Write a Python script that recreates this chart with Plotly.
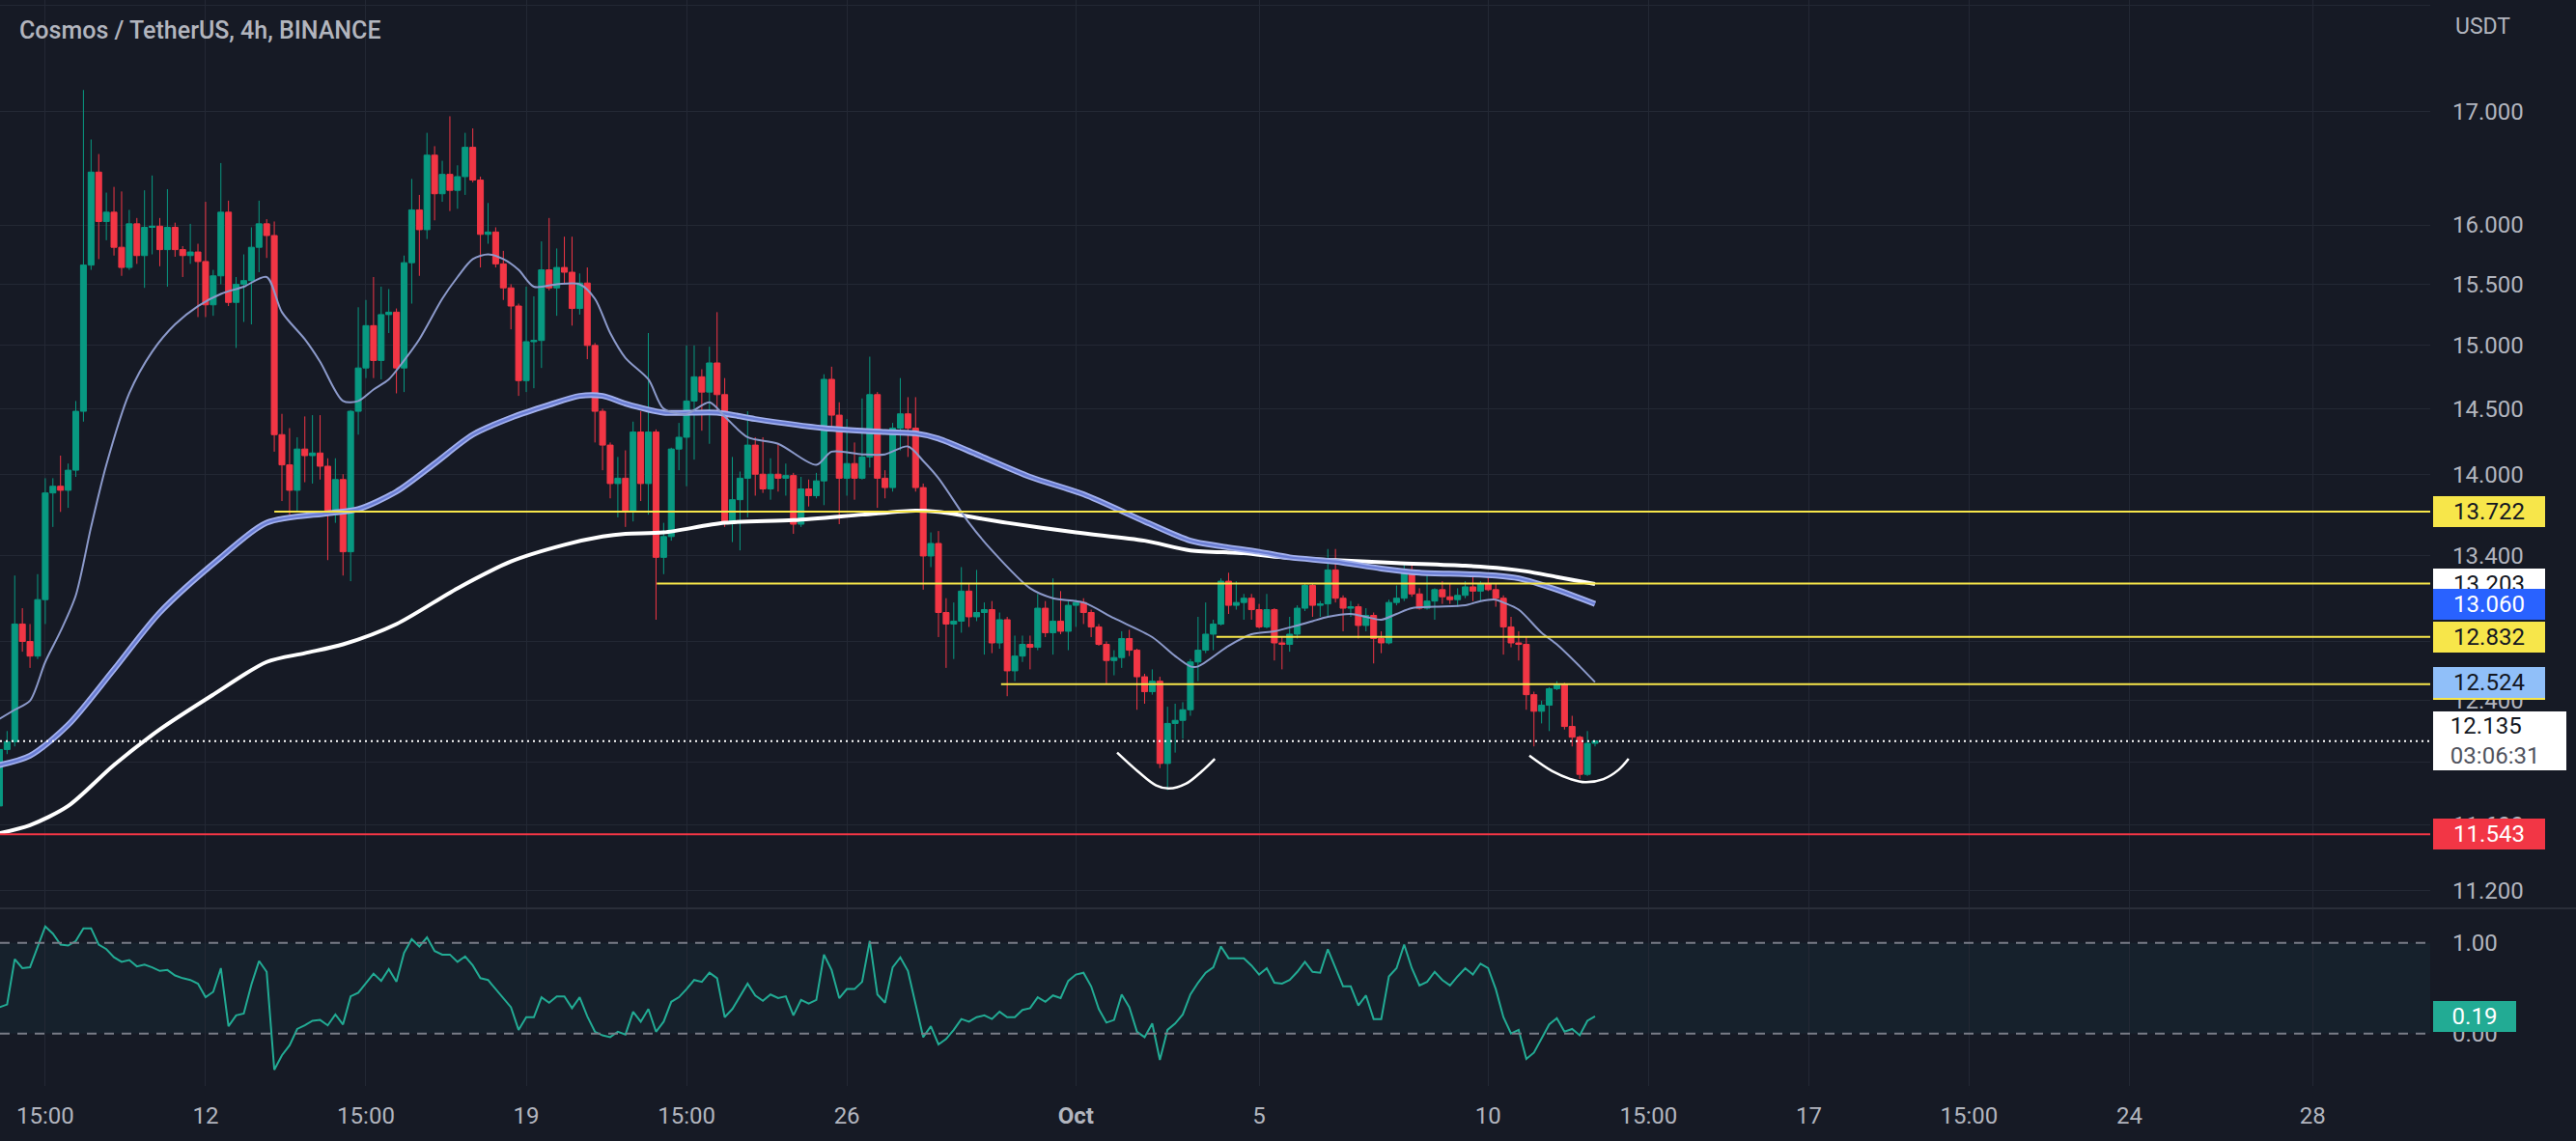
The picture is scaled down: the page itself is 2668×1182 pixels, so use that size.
import numpy as np
import pandas as pd
import plotly.graph_objects as go

# ---------------- data ----------------
BASE = pd.Timestamp("2022-09-07 12:00")   # time of bar 0 (4h bars)
BAR_HOURS = 4

opens = [11.72,12.08,12.13,12.92,12.80,12.70,13.09,13.86,13.91,13.88,
         14.03,14.48,15.66,16.46,16.03,16.11,15.81,15.64,16.01,15.74,
         15.98,15.99,15.79,15.98,15.79,15.74,15.77,15.69,15.33,15.57,
         16.11,15.35,15.50,15.53,15.81,16.01,15.91,14.30,14.07,13.88,
         14.19,14.14,14.16,14.06,13.70,13.96,13.43,14.48,14.82,15.16,
         14.88,15.25,15.27,14.82,15.68,16.13,15.96,16.61,16.27,16.44,
         16.30,16.42,16.68,16.39,15.92,15.94,15.67,15.47,15.32,14.72,
         15.03,15.04,15.62,15.47,15.64,15.60,15.30,15.51,15.00,14.48,
         14.22,13.93,13.97,13.72,14.32,13.93,14.32,13.39,13.54,14.19,
         14.28,14.56,14.75,14.63,14.86,14.61,13.65,13.81,13.97,14.22,
         14.00,13.89,14.00,13.97,13.99,13.63,13.89,13.84,13.95,14.73,
         14.45,13.97,14.08,13.97,14.13,14.61,13.97,13.90,14.35,14.46,
         14.35,13.90,13.40,13.49,13.00,12.92,12.94,13.15,12.97,13.00,
         13.02,12.79,12.95,12.60,12.70,12.78,12.76,13.03,12.86,12.94,
         12.87,13.05,13.07,13.00,12.90,12.78,12.67,12.69,12.82,12.74,
         12.56,12.46,12.53,11.99,12.25,12.27,12.34,12.66,12.74,12.85,
         12.92,13.22,13.05,13.07,13.10,13.02,12.90,13.02,12.79,12.78,
         12.85,13.03,13.19,13.05,13.06,13.30,13.10,13.03,13.04,12.91,
         12.98,12.82,12.79,13.07,13.10,13.30,13.13,13.03,13.08,13.16,
         13.11,13.09,13.12,13.18,13.15,13.20,13.16,13.10,12.90,12.79,
         12.78,12.44,12.33,12.37,12.48,12.51,12.23,12.16,11.92,12.12]

highs = [12.10,12.20,13.26,13.03,12.92,13.27,13.97,13.97,14.14,14.08,
         14.56,17.20,16.75,16.62,16.28,16.33,16.29,16.13,16.06,16.30,
         16.43,16.06,16.31,16.02,15.82,16.01,15.84,16.20,15.62,16.54,
         16.21,15.56,15.75,15.98,16.21,16.05,16.03,14.46,14.35,14.28,
         14.44,14.45,14.45,14.12,14.12,14.00,14.49,15.31,15.37,15.56,
         15.48,15.46,15.30,15.74,16.40,16.26,16.81,16.69,16.56,16.96,
         16.52,16.81,16.85,16.42,16.19,15.98,15.78,15.50,15.34,15.48,
         15.40,15.86,16.06,15.80,15.90,15.90,15.59,15.64,15.02,14.50,
         14.24,14.13,14.18,14.40,14.48,15.10,14.34,13.64,14.20,14.39,
         15.00,15.00,14.81,14.99,15.27,14.74,14.13,14.02,14.48,14.28,
         14.28,14.12,14.23,14.08,14.01,13.98,13.96,14.01,14.77,14.83,
         14.55,14.42,14.24,14.58,14.91,14.63,14.03,14.39,14.74,14.59,
         14.59,13.93,13.57,13.58,13.10,13.07,13.32,13.20,13.30,13.07,
         13.08,13.00,12.97,12.84,12.84,12.84,13.13,13.08,13.24,13.15,
         13.08,13.09,13.10,13.02,12.92,12.80,12.74,12.87,12.88,12.75,
         12.58,12.61,12.56,12.36,12.38,12.39,12.68,12.97,13.07,12.95,
         13.24,13.28,13.22,13.13,13.13,13.06,13.13,13.03,12.83,12.97,
         13.05,13.20,13.20,13.08,13.45,13.45,13.12,13.08,13.06,13.03,
         13.00,12.87,13.09,13.19,13.34,13.34,13.17,13.26,13.17,13.22,
         13.20,13.17,13.22,13.27,13.22,13.27,13.20,13.12,12.97,12.87,
         12.83,12.46,12.40,12.49,12.53,12.52,12.30,12.17,12.20,12.14]

lows = [11.65,12.05,12.10,12.73,12.62,12.68,12.92,13.61,13.72,13.75,
        13.98,14.40,15.62,15.71,15.87,15.74,15.57,15.62,15.67,15.47,
        15.75,15.65,15.48,15.73,15.56,15.67,15.23,15.23,15.24,15.50,
        15.32,14.98,15.19,15.17,15.60,15.72,14.17,13.80,13.70,13.72,
        13.94,13.93,13.96,13.37,13.64,13.26,13.22,14.30,14.74,14.74,
        14.73,15.10,14.62,14.63,15.34,15.57,15.88,16.04,16.20,16.12,
        16.14,16.26,16.37,15.64,15.84,15.64,15.37,15.13,14.60,14.63,
        14.66,14.82,15.45,15.24,15.50,15.16,15.25,14.89,14.24,14.03,
        13.82,13.68,13.61,13.65,13.80,13.70,12.95,13.27,13.51,14.03,
        13.91,14.11,14.33,14.23,14.48,13.61,13.50,13.44,13.68,13.84,
        13.86,13.81,13.87,13.84,13.56,13.61,13.76,13.82,13.77,14.33,
        13.63,13.84,13.81,13.96,14.05,13.75,13.82,13.87,14.18,14.13,
        13.87,13.16,13.32,12.83,12.62,12.68,12.86,12.90,12.94,12.71,
        12.72,12.75,12.43,12.53,12.66,12.61,12.74,12.83,12.71,12.85,
        12.74,12.90,12.92,12.83,12.77,12.51,12.57,12.62,12.70,12.34,
        12.38,12.44,11.96,11.82,12.06,12.15,12.30,12.53,12.72,12.74,
        12.91,12.99,13.02,12.95,12.95,12.89,12.89,12.67,12.61,12.73,
        12.82,13.01,12.97,12.97,12.97,13.07,12.87,12.97,12.82,12.87,
        12.65,12.72,12.78,13.05,13.08,13.11,13.02,13.02,12.95,13.06,
        13.06,13.04,13.10,13.08,13.08,13.15,13.04,12.71,12.76,12.67,
        12.34,12.10,12.25,12.20,12.47,12.21,12.10,11.89,11.91,12.10]

closes = [12.08,12.13,12.92,12.80,12.70,13.09,13.86,13.91,13.88,14.03,
          14.48,15.66,16.46,16.03,16.11,15.81,15.64,16.01,15.74,15.98,
          15.99,15.79,15.98,15.79,15.74,15.77,15.69,15.33,15.57,16.11,
          15.35,15.50,15.53,15.81,16.01,15.91,14.30,14.07,13.88,14.19,
          14.14,14.16,14.06,13.70,13.96,13.43,14.48,14.82,15.16,14.88,
          15.25,15.27,14.82,15.68,16.13,15.96,16.61,16.27,16.44,16.30,
          16.42,16.68,16.39,15.92,15.94,15.67,15.47,15.32,14.72,15.03,
          15.04,15.62,15.47,15.64,15.60,15.30,15.51,15.00,14.48,14.22,
          13.93,13.97,13.72,14.32,13.93,14.32,13.39,13.54,14.19,14.28,
          14.56,14.75,14.63,14.86,14.61,13.65,13.81,13.97,14.22,14.00,
          13.89,14.00,13.97,13.99,13.63,13.89,13.84,13.95,14.73,14.45,
          13.97,14.08,13.97,14.13,14.61,13.97,13.90,14.35,14.46,14.35,
          13.90,13.40,13.49,13.00,12.92,12.94,13.15,12.97,13.00,13.02,
          12.79,12.95,12.60,12.70,12.78,12.76,13.03,12.86,12.94,12.87,
          13.05,13.07,13.00,12.90,12.78,12.67,12.69,12.82,12.74,12.56,
          12.46,12.53,11.99,12.25,12.27,12.34,12.66,12.74,12.85,12.92,
          13.22,13.05,13.07,13.10,13.02,12.90,13.02,12.79,12.78,12.85,
          13.03,13.19,13.05,13.06,13.30,13.10,13.03,13.04,12.91,12.98,
          12.82,12.79,13.07,13.10,13.30,13.13,13.03,13.08,13.16,13.11,
          13.09,13.12,13.18,13.15,13.20,13.16,13.10,12.90,12.79,12.78,
          12.44,12.33,12.37,12.48,12.51,12.23,12.16,11.92,12.12,12.135]

osc_values = [0.29,0.32,0.82,0.72,0.73,0.95,1.18,1.10,0.98,0.97,
              1.02,1.16,1.16,0.98,0.93,0.84,0.79,0.81,0.74,0.76,
              0.73,0.69,0.70,0.64,0.61,0.59,0.55,0.40,0.46,0.72,
              0.08,0.20,0.22,0.54,0.80,0.68,-0.40,-0.24,-0.13,0.05,
              0.09,0.14,0.15,0.09,0.21,0.10,0.41,0.45,0.56,0.66,
              0.58,0.71,0.57,0.89,1.04,0.96,1.06,0.91,0.87,0.87,
              0.79,0.85,0.75,0.61,0.59,0.49,0.38,0.29,0.04,0.18,
              0.18,0.40,0.34,0.41,0.41,0.28,0.40,0.19,0.02,-0.02,
              -0.04,0.02,-0.01,0.24,0.13,0.27,0.02,0.13,0.35,0.40,
              0.49,0.59,0.57,0.67,0.61,0.18,0.27,0.41,0.55,0.42,
              0.36,0.43,0.39,0.41,0.20,0.37,0.33,0.37,0.87,0.70,
              0.39,0.49,0.49,0.57,1.02,0.43,0.34,0.73,0.84,0.69,
              0.31,-0.04,0.08,-0.12,-0.06,0.04,0.16,0.13,0.18,0.20,
              0.16,0.24,0.18,0.18,0.26,0.28,0.40,0.35,0.42,0.39,
              0.58,0.65,0.67,0.52,0.27,0.12,0.15,0.43,0.29,0.02,
              -0.04,0.11,-0.29,0.04,0.11,0.21,0.43,0.56,0.67,0.73,
              0.96,0.83,0.83,0.83,0.75,0.65,0.72,0.56,0.55,0.59,
              0.68,0.79,0.68,0.67,0.93,0.73,0.52,0.52,0.31,0.42,
              0.16,0.16,0.63,0.72,0.98,0.72,0.53,0.57,0.68,0.59,
              0.53,0.63,0.72,0.65,0.77,0.72,0.49,0.18,0.00,0.04,
              -0.28,-0.21,-0.06,0.10,0.17,0.02,0.05,-0.02,0.14,0.19]

# moving averages (bar index, value)
ma_fast_bar = [0,2,4,6,8,10,12,14,17,20,23,26,29,32,35,37,40,42,45,47,49,51,53,55,58,60,62,64,66,68,
               70,73,76,78,80,82,85,87,90,93,95,98,102,107,109,113,116,119,121,123,127,130,135,138,142,
               146,151,154,156,157,161,164,167,170,172,174,177,179,181,183,185,188,192,194,196,197,199,
               202,204,207,209]
ma_fast_val = [12.28,12.34,12.40,12.66,12.87,13.12,13.61,14.07,14.62,14.95,15.17,15.32,15.42,15.48,15.56,
               15.27,15.05,14.87,14.56,14.56,14.65,14.73,14.88,15.05,15.38,15.56,15.71,15.75,15.71,15.62,
               15.48,15.50,15.50,15.38,15.10,14.90,14.73,14.50,14.46,14.55,14.44,14.28,14.23,14.07,14.17,
               14.15,14.15,14.21,14.10,13.97,13.64,13.44,13.17,13.10,13.07,12.96,12.83,12.70,12.63,12.63,
               12.77,12.85,12.87,12.91,12.94,12.97,12.99,12.97,12.95,12.99,13.03,13.04,13.05,13.08,13.09,
               13.07,13.02,12.86,12.78,12.63,12.524]
ma_mid_bar = [0,4,9,15,21,29,35,43,47,52,57,62,67,72,76,79,82,87,94,99,
              108,116,120,123,128,135,142,150,156,160,165,169,175,181,186,192,196,199,204,209]
ma_mid_val = [11.98,12.04,12.24,12.61,13.00,13.39,13.64,13.71,13.74,13.87,
              14.08,14.30,14.43,14.53,14.60,14.60,14.54,14.47,14.47,14.42,
              14.35,14.32,14.31,14.27,14.15,13.98,13.85,13.65,13.51,13.47,
              13.43,13.39,13.36,13.31,13.28,13.27,13.26,13.24,13.16,13.06]
ma_slow_bar = [0,4,9,15,21,28,35,40,45,52,60,67,74,79,82,87,95,104,113,120,
               123,132,141,150,156,163,168,175,183,192,197,200,204,209]
ma_slow_val = [11.55,11.60,11.72,11.98,12.21,12.44,12.66,12.72,12.78,12.92,
               13.17,13.36,13.48,13.54,13.56,13.57,13.64,13.66,13.70,13.73,
               13.72,13.64,13.57,13.51,13.44,13.42,13.39,13.37,13.35,13.33,
               13.31,13.29,13.25,13.20]

# drawn horizontal levels
level_prices = [13.722, 13.203, 12.832, 12.51, 11.543]
level_start_bar = [36.0, 86.1, 159.4, 131.2, 0.07]

# hand-drawn "cup" arcs
cup_left_bar = [146.4, 149.1, 151.5, 153.2, 155.4, 157.5, 159.2]
cup_left_val = [12.06, 11.94, 11.85, 11.83, 11.86, 11.94, 12.02]
cup_right_bar = [200.4, 203.4, 205.8, 207.7, 210.1, 212.1, 213.4]
cup_right_val = [12.04, 11.94, 11.89, 11.87, 11.89, 11.95, 12.02]

last_price = 12.135
countdown = "03:06:31"
osc_last = 0.19

price_ticks = [11.2, 11.6, 12.0, 12.4, 12.8, 13.4, 14.0, 14.5, 15.0, 15.5, 16.0, 17.0, 18.0]
price_tick_text = ["11.200", "11.600", "12.000", "12.400", "12.800", "13.400", "14.000",
                   "14.500", "15.000", "15.500", "16.000", "17.000", ""]
time_ticks = ["2022-09-08 12:00", "2022-09-12", "2022-09-15 12:00", "2022-09-19",
              "2022-09-22 12:00", "2022-09-26", "2022-10-01", "2022-10-05", "2022-10-10",
              "2022-10-13 12:00", "2022-10-17", "2022-10-20 12:00", "2022-10-24", "2022-10-28"]
time_tick_text = ["15:00", "12", "15:00", "19", "15:00", "26", "<b>Oct</b>", "5", "10",
                  "15:00", "17", "15:00", "24", "28"]

view_first_bar = 0.07
view_last_bar = 318.4

# ---------------- style ----------------
BG = "#161a25"
GRID = "#232834"
TXT = "#b2b5be"
UP = "#089981"
DOWN = "#f23645"
YEL = "#f7e64a"
FONT = "Roboto, sans-serif"


def bar_time(b):
    return BASE + pd.to_timedelta(np.asarray(b, dtype=float) * BAR_HOURS, unit="h")


n = len(closes)
times = bar_time(np.arange(n))
x_end = bar_time([view_last_bar])[0]
x_start = bar_time([view_first_bar])[0]

fig = go.Figure()

fig.add_trace(go.Candlestick(
    x=times, open=opens, high=highs, low=lows, close=closes,
    increasing=dict(line=dict(color=UP, width=1), fillcolor=UP),
    decreasing=dict(line=dict(color=DOWN, width=1), fillcolor=DOWN),
    whiskerwidth=0, hoverinfo="skip", xaxis="x", yaxis="y"))

fig.add_trace(go.Scatter(x=bar_time(ma_slow_bar), y=ma_slow_val, mode="lines",
                         line=dict(color="#ffffff", width=4, shape="spline", smoothing=0.8),
                         hoverinfo="skip", xaxis="x", yaxis="y"))
fig.add_trace(go.Scatter(x=bar_time(ma_mid_bar), y=ma_mid_val, mode="lines",
                         line=dict(color="#a3b1ee", width=6, shape="spline", smoothing=0.8),
                         hoverinfo="skip", xaxis="x", yaxis="y"))
fig.add_trace(go.Scatter(x=bar_time(ma_mid_bar), y=ma_mid_val, mode="lines",
                         line=dict(color="#6a7dd3", width=2.5, shape="spline", smoothing=0.8),
                         hoverinfo="skip", xaxis="x", yaxis="y"))
fig.add_trace(go.Scatter(x=bar_time(ma_fast_bar), y=ma_fast_val, mode="lines",
                         line=dict(color="#8c9acb", width=2, shape="spline", smoothing=0.8),
                         hoverinfo="skip", xaxis="x", yaxis="y"))

for p, b in zip(level_prices, level_start_bar):
    col = DOWN if p == level_prices[-1] else YEL
    fig.add_trace(go.Scatter(x=[bar_time([b])[0], x_end], y=[p, p], mode="lines",
                             line=dict(color=col, width=2), hoverinfo="skip",
                             xaxis="x", yaxis="y"))

fig.add_trace(go.Scatter(x=[x_start, x_end], y=[last_price, last_price], mode="lines",
                         line=dict(color="#ffffff", width=2, dash="2px,4px"),
                         hoverinfo="skip", xaxis="x", yaxis="y"))

for cb, cv in ((cup_left_bar, cup_left_val), (cup_right_bar, cup_right_val)):
    fig.add_trace(go.Scatter(x=bar_time(cb), y=cv, mode="lines",
                             line=dict(color="#ffffff", width=2.5, shape="spline", smoothing=1.0),
                             hoverinfo="skip", xaxis="x", yaxis="y"))

fig.add_trace(go.Scatter(x=times, y=osc_values, mode="lines",
                         line=dict(color="#22ab94", width=2), hoverinfo="skip",
                         xaxis="x2", yaxis="y2"))

# ---------------- layout ----------------
W, H = 2668, 1182
ML, MR, MT, MB = 0, 151, 0, 57
PH = H - MT - MB           # 1125
price_bottom = 1 - 940 / PH
osc_top = (PH - 942) / PH

ymin, ymax = 11.10, 18.05

fig.update_layout(
    width=W, height=H, margin=dict(l=ML, r=MR, t=MT, b=MB, pad=0),
    paper_bgcolor=BG, plot_bgcolor=BG, showlegend=False,
    boxgap=0.15, boxgroupgap=0.1,
    font=dict(family=FONT, color=TXT, size=24),
    xaxis=dict(domain=[0, 1], anchor="y", type="date", range=[x_start, x_end],
               tickvals=time_ticks, showticklabels=False, showgrid=True, gridcolor=GRID,
               gridwidth=1, zeroline=False, showline=False, ticks="",
               rangeslider=dict(visible=False)),
    xaxis2=dict(domain=[0, 1], anchor="y2", type="date", matches="x", range=[x_start, x_end],
                tickvals=time_ticks, ticktext=time_tick_text, showgrid=True, gridcolor=GRID,
                gridwidth=1, zeroline=False, showline=False, ticks="",
                tickfont=dict(family=FONT, size=24, color=TXT), ticklabelstandoff=14,
                rangeslider=dict(visible=False)),
    yaxis=dict(domain=[price_bottom, 1], anchor="x", side="right", type="log",
               range=[np.log10(ymin), np.log10(ymax)], tickvals=price_ticks,
               ticktext=price_tick_text, showgrid=True, gridcolor=GRID, gridwidth=1,
               zeroline=False, showline=False, ticks="",
               tickfont=dict(family=FONT, size=24, color=TXT), ticklabelstandoff=22),
    yaxis2=dict(domain=[0, osc_top], anchor="x2", side="right", range=[-0.578, 1.369],
                tickvals=[0, 1], ticktext=["0.00", "1.00"], showgrid=False,
                zeroline=False, showline=False, ticks="",
                tickfont=dict(family=FONT, size=24, color=TXT), ticklabelstandoff=22),
)

shapes = [
    dict(type="rect", xref="paper", yref="y2", x0=0, x1=1, y0=0, y1=1,
         fillcolor="rgba(33,150,170,0.06)", line=dict(width=0), layer="below"),
    dict(type="line", xref="paper", yref="y2", x0=0, x1=1, y0=1, y1=1,
         line=dict(color="#787b86", width=2, dash="10px,8px")),
    dict(type="line", xref="paper", yref="y2", x0=0, x1=1, y0=0, y1=0,
         line=dict(color="#787b86", width=2, dash="10px,8px")),
    dict(type="line", xref="paper", yref="paper", x0=0, x1=W / (W - MR),
         y0=1 - 941 / PH, y1=1 - 941 / PH, line=dict(color="#2a2e39", width=2)),
]
fig.update_layout(shapes=shapes)

ann = []
ann.append(dict(xref="paper", yref="paper", x=18 / (W - MR), y=1 - 31 / PH,
                xanchor="left", yanchor="middle", showarrow=False,
                text="Cosmos / TetherUS, 4h, BINANCE",
                font=dict(family="Roboto Medium, Roboto, sans-serif", size=25, color=TXT)))
ann.append(dict(xref="paper", yref="paper", x=2571 / (W - MR), y=1 - 27 / PH,
                xanchor="center", yanchor="middle", showarrow=False, text="USDT",
                font=dict(family=FONT, size=23, color=TXT)))


def price_box(value, text, bg, fg, yref="y", width=116, height=32):
    yv = np.log10(value) if yref == "y" else value
    return dict(xref="paper", yref=yref, x=1, xshift=3, y=yv, xanchor="left",
                yanchor="middle", showarrow=False, text=text, bgcolor=bg,
                borderpad=0, borderwidth=0, width=width, height=height, align="center",
                valign="middle", font=dict(family=FONT, size=24, color=fg))


ann.append(price_box(13.722, "13.722", YEL, "#131722"))
ann.append(price_box(13.203, "13.203", "#ffffff", "#131722"))
ann.append(price_box(ma_mid_val[-1], "13.060", "#2962ff", "#ffffff"))
ann.append(price_box(12.832, "12.832", YEL, "#131722"))
ann.append(price_box(level_prices[3], "12.510", YEL, "#131722"))
ann.append(price_box(ma_fast_val[-1], "12.524", "#90bff9", "#131722"))
lp = price_box(last_price, "&nbsp;&nbsp;&nbsp;12.135<br>&nbsp;&nbsp;&nbsp;<span style='color:#50535e'>"
               + countdown + "</span>", "#ffffff", "#131722", width=138, height=61)
lp["align"] = "left"
ann.append(lp)
ann.append(price_box(11.543, "11.543", DOWN, "#ffffff"))
ann.append(price_box(osc_last, "0.19", "#22ab94", "#ffffff", yref="y2", width=86))

fig.update_layout(annotations=ann)

fig.write_html("out.html", config={"displayModeBar": False})
